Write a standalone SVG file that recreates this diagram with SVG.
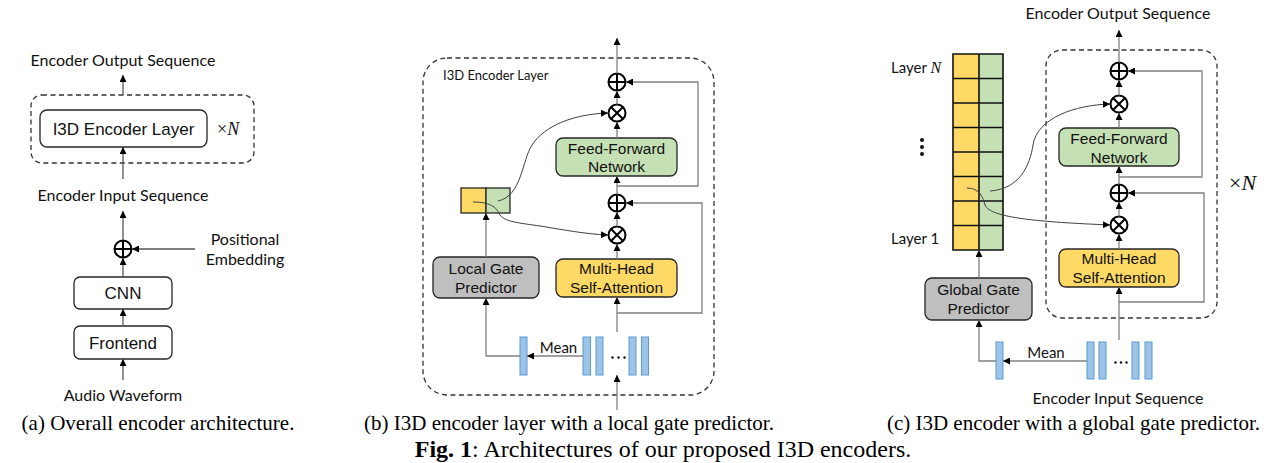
<svg xmlns="http://www.w3.org/2000/svg" width="1282" height="463" viewBox="0 0 1282 463">
<defs>
<marker id="ah" viewBox="0 0 7 7" refX="7" refY="3.5" markerWidth="7" markerHeight="7" markerUnits="userSpaceOnUse" orient="auto"><path d="M0,0 L7,3.5 L0,7 z" fill="#000"/></marker>
<style>
.lbl{font-family:Lato,"Open Sans",sans-serif;fill:#111;font-size:16px}
.sm{font-size:13px}
.box{font-family:"Liberation Sans",Arial,sans-serif;fill:#111;font-size:15.5px;text-anchor:middle}
.cap{font-family:"Liberation Serif","Times New Roman",serif;fill:#000;font-size:21px;text-anchor:middle}
.node{stroke:#262626;stroke-width:1.3}
.w{fill:#fff}
.y{fill:#ffd966}
.g{fill:#c5e0b4}
.gr{fill:#bfbfbf}
.bar{fill:#9dc3e6;stroke:#5b9bd5;stroke-width:1}
.dash{fill:none;stroke:#333;stroke-width:1.3;stroke-dasharray:5,3.5}
.ln{fill:none;stroke:#808080;stroke-width:1.3}
.lna{fill:none;stroke:#555;stroke-width:1.3}
.cur{fill:none;stroke:#404040;stroke-width:1}
.op{fill:#fff;stroke:#000;stroke-width:2}
.opl{stroke:#000;stroke-width:2}
.mk{marker-end:url(#ah)}
.dot{fill:#111}
</style>
</defs>

<!-- Panel (a) -->
<g id="a-frame"><rect class="dash" x="31" y="95" width="223" height="68" rx="11"/></g>
<g id="a-out"><text class="lbl" x="123" y="66" text-anchor="middle">Encoder Output Sequence</text></g>
<g id="a-layer"><rect class="node w" x="40" y="110" width="167" height="37" rx="7"/><text class="box" x="123.5" y="134.5" style="font-size:17px">I3D Encoder Layer</text></g>
<g id="a-xn"><text x="217" y="135" style="font-family:'Liberation Serif',serif;font-size:18px;fill:#111">×<tspan font-style="italic">N</tspan></text></g>
<g id="a-in"><text class="lbl" x="123" y="201" text-anchor="middle">Encoder Input Sequence</text></g>
<g id="a-plus"><circle class="op" cx="123" cy="249" r="8.5"/><path class="opl" d="M114.5,249 H131.5 M123,240.5 V257.5"/></g>
<g id="a-pos"><text class="lbl" x="245" y="245" text-anchor="middle">Positional</text><text class="lbl" x="245" y="265" text-anchor="middle">Embedding</text></g>
<g id="a-cnn"><rect class="node w" x="74" y="277" width="98" height="32" rx="6"/><text class="box" x="123" y="299" style="font-size:17px">CNN</text></g>
<g id="a-front"><rect class="node w" x="74" y="326" width="98" height="33" rx="6"/><text class="box" x="123" y="348.5" style="font-size:17px">Frontend</text></g>
<g id="a-audio"><text class="lbl" x="123" y="401" text-anchor="middle">Audio Waveform</text></g>

<!-- Panel (b) -->
<g id="b-frame"><rect class="dash" x="423" y="58" width="291" height="337" rx="24"/><text class="lbl sm" x="443" y="80">I3D Encoder Layer</text></g>
<g id="b-add2"><circle class="op" cx="617" cy="82" r="8.5"/><path class="opl" d="M608.5,82 H625.5 M617,73.5 V90.5"/></g>
<g id="b-mul2"><circle class="op" cx="617" cy="113" r="8.5"/><path class="opl" d="M611,107 L623,119 M623,107 L611,119"/></g>
<g id="b-ffn"><rect class="node g" x="556" y="138" width="121" height="38" rx="7"/><text class="box" x="616.5" y="153.5">Feed-Forward</text><text class="box" x="616.5" y="171.5">Network</text></g>
<g id="b-add1"><circle class="op" cx="617" cy="203" r="8.5"/><path class="opl" d="M608.5,203 H625.5 M617,194.5 V211.5"/></g>
<g id="b-mul1"><circle class="op" cx="617" cy="235" r="8.5"/><path class="opl" d="M611,229 L623,241 M623,229 L611,241"/></g>
<g id="b-mhsa"><rect class="node y" x="556" y="259" width="121" height="38" rx="7"/><text class="box" x="616.5" y="273.5">Multi-Head</text><text class="box" x="616.5" y="292.5">Self-Attention</text></g>
<g id="b-gate"><rect class="node y" x="461" y="188" width="25" height="25"/><rect class="node g" x="486" y="188" width="24" height="25"/></g>
<g id="b-lgp"><rect class="node gr" x="433" y="257" width="106" height="41" rx="7"/><text class="box" x="486" y="273.5">Local Gate</text><text class="box" x="486" y="292.5">Predictor</text></g>
<g id="b-mean"><rect class="bar" x="520" y="337" width="7" height="38"/><text class="lbl" x="558.5" y="352.5" text-anchor="middle" style="font-size:15px">Mean</text></g>
<g id="b-seq"><rect class="bar" x="583" y="337" width="7.5" height="38"/><rect class="bar" x="596" y="337" width="7" height="38"/><circle class="dot" cx="612.5" cy="357.5" r="1.2"/><circle class="dot" cx="618.5" cy="357.5" r="1.2"/><circle class="dot" cx="624.5" cy="357.5" r="1.2"/><rect class="bar" x="629" y="337" width="7" height="38"/><rect class="bar" x="641.5" y="337" width="7" height="38"/></g>

<!-- Panel (c) -->
<g id="c-out"><text class="lbl" x="1118" y="19" text-anchor="middle">Encoder Output Sequence</text></g>
<g id="c-frame"><rect class="dash" x="1046" y="50" width="171" height="268" rx="16"/></g>
<g id="c-xn"><text x="1229" y="190" style="font-family:'Liberation Serif',serif;font-size:22px;fill:#111">×<tspan font-style="italic">N</tspan></text></g>
<g id="c-add2"><circle class="op" cx="1119" cy="71" r="8.5"/><path class="opl" d="M1110.5,71 H1127.5 M1119,62.5 V79.5"/></g>
<g id="c-mul2"><circle class="op" cx="1119" cy="104" r="8.5"/><path class="opl" d="M1113,98 L1125,110 M1125,98 L1113,110"/></g>
<g id="c-ffn"><rect class="node g" x="1059" y="128" width="120" height="38" rx="7"/><text class="box" x="1119" y="143.5">Feed-Forward</text><text class="box" x="1119" y="162.5">Network</text></g>
<g id="c-add1"><circle class="op" cx="1119" cy="193" r="8.5"/><path class="opl" d="M1110.5,193 H1127.5 M1119,184.5 V201.5"/></g>
<g id="c-mul1"><circle class="op" cx="1119" cy="225" r="8.5"/><path class="opl" d="M1113,219 L1125,231 M1125,219 L1113,231"/></g>
<g id="c-mhsa"><rect class="node y" x="1059" y="249" width="120" height="38" rx="7"/><text class="box" x="1119" y="263.5">Multi-Head</text><text class="box" x="1119" y="282.5">Self-Attention</text></g>
<g id="c-gates">
<rect class="y" x="953" y="54" width="26" height="196"/><rect class="g" x="979" y="54" width="24" height="196"/>
<path d="M953,54 H1003 V250 H953 Z M979,54 V250 M953,78.5 H1003 M953,103 H1003 M953,127.5 H1003 M953,152 H1003 M953,176.5 H1003 M953,201 H1003 M953,225.5 H1003" fill="none" stroke="#111" stroke-width="1.6"/>
</g>
<g id="c-layers"><text class="lbl" x="891" y="73" style="font-size:15px">Layer <tspan font-style="italic" style="font-family:'Liberation Serif',serif;font-size:16px">N</tspan></text><circle cx="922" cy="140" r="2" fill="#111"/><circle cx="922" cy="147" r="2" fill="#111"/><circle cx="922" cy="154" r="2" fill="#111"/><text class="lbl" x="891" y="244" style="font-size:15px">Layer 1</text></g>
<g id="c-ggp"><rect class="node gr" x="925" y="278" width="107" height="42" rx="7"/><text class="box" x="978.5" y="294.5">Global Gate</text><text class="box" x="978.5" y="313.5">Predictor</text></g>
<g id="c-mean"><rect class="bar" x="996" y="342" width="7" height="37"/><text class="lbl" x="1046" y="357.5" text-anchor="middle" style="font-size:15px">Mean</text></g>
<g id="c-seq"><rect class="bar" x="1087" y="342" width="7" height="37"/><rect class="bar" x="1099" y="342" width="7" height="37"/><circle class="dot" cx="1115.5" cy="362.5" r="1.2"/><circle class="dot" cx="1121" cy="362.5" r="1.2"/><circle class="dot" cx="1126.5" cy="362.5" r="1.2"/><rect class="bar" x="1132" y="342" width="7" height="37"/><rect class="bar" x="1145" y="342" width="7" height="37"/><text class="lbl" x="1118" y="403.5" text-anchor="middle">Encoder Input Sequence</text></g>

<!-- Connectors -->
<g id="connectors">
<path class="lna mk" d="M123,95 V75"/>
<path class="lna mk" d="M123,179 V147"/>
<path class="lna mk" d="M123,240 V211"/>
<path class="lna mk" d="M195,249 H132"/>
<path class="lna mk" d="M123,277 V258"/>
<path class="lna mk" d="M123,326 V309"/>
<path class="lna mk" d="M123,380 V359"/>

<path class="ln mk" d="M617,73.5 V38"/>
<path class="ln mk" d="M617,104.5 V91"/>
<path class="ln mk" d="M617,138 V122"/>
<path class="ln mk" d="M617,194.5 V176"/>
<path class="ln mk" d="M617,186 H698 V82 H626"/>
<path class="ln mk" d="M617,226.5 V212"/>
<path class="ln mk" d="M617,259 V244"/>
<path class="ln mk" d="M617,332 V297"/>
<path class="ln mk" d="M617,313 H702 V203 H626"/>
<path class="ln mk" d="M617,410 V375"/>
<path class="ln mk" d="M486,257 V213"/>
<path class="ln mk" d="M520,356 H486 V298"/>
<path class="ln mk" d="M583,356 H527"/>
<path class="cur mk" d="M498,201 C522,196 522,160 532,145 C545,125 575,114 608,113"/>
<path class="cur mk" d="M473,202 C493,202 497,209 500,215 C505,222 520,223 540,226 C565,230 585,234 608,235"/>

<path class="ln mk" d="M1119,62.5 V30"/>
<path class="ln mk" d="M1119,95.5 V80"/>
<path class="ln mk" d="M1119,128 V113"/>
<path class="ln mk" d="M1119,184.5 V166"/>
<path class="ln mk" d="M1119,177 H1202 V71 H1128"/>
<path class="ln mk" d="M1119,216.5 V202"/>
<path class="ln mk" d="M1119,249 V234"/>
<path class="ln mk" d="M1119,340 V287"/>
<path class="ln mk" d="M1119,302 H1204 V193 H1128"/>
<path class="ln mk" d="M979,278 V250"/>
<path class="ln mk" d="M996,361 H979 V320"/>
<path class="ln mk" d="M1087,361 H1003"/>
<path class="cur mk" d="M990,191 C1020,189 1030,165 1033,145 C1037,118 1075,105 1110,104"/>
<path class="cur mk" d="M967,188 C980,188 983,198 985,205 C990,218 1040,222 1110,225"/>
</g>

<!-- Captions -->
<g id="captions">
<text class="cap" x="158" y="430">(a) Overall encoder architecture.</text>
<text class="cap" x="569" y="430">(b) I3D encoder layer with a local gate predictor.</text>
<text class="cap" x="1073.5" y="430">(c) I3D encoder with a global gate predictor.</text>
<text class="cap" x="663" y="457" style="font-size:24px"><tspan font-weight="bold">Fig. 1</tspan>: Architectures of our proposed I3D encoders.</text>
</g>
</svg>
